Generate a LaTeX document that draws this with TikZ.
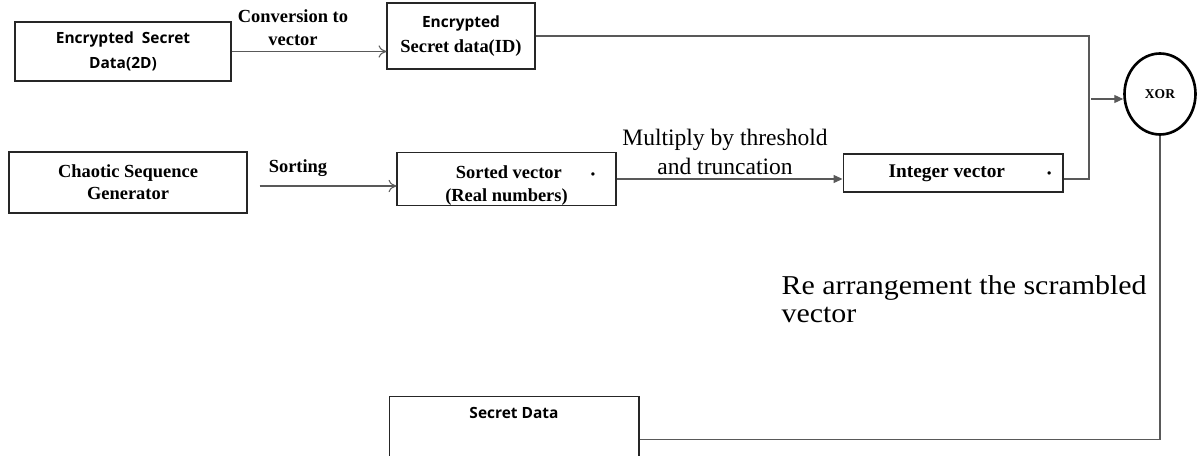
\documentclass[tikz,border=0pt]{standalone}
\usepackage{fontspec}
\setmainfont{Liberation Serif}
\newfontfamily\boxsans{Open Sans}
\newfontfamily\widefont[FakeStretch=1.1]{Liberation Serif}
\usetikzlibrary{shapes.geometric,arrows.meta}

\begin{document}
\begin{tikzpicture}[x=0.02cm,y=-0.02cm,shorten >=0pt,-,line width=0.6pt]
    \tikzstyle{block}=[rectangle,draw=black!85,fill=white,inner sep=0pt,align=center,font=\fontsize{10.5}{13}\selectfont\bfseries]
    \tikzstyle{sansbold}=[font=\fontsize{8.8}{14.2}\selectfont\boxsans\bfseries]
    \tikzstyle{wire}=[draw=black!65]
    \tikzstyle{open}=[-{To[length=4.5pt,width=7pt]}]
    \tikzstyle{solid}=[-{Triangle[length=5pt,width=4.5pt]}]
    \tikzstyle{lbl}=[inner sep=0pt,align=center,font=\fontsize{10.5}{13}\selectfont\bfseries]
    \useasboundingbox (0,0) rectangle (1198,456);

    % boxes
    \node[block,sansbold,minimum width=4.32cm,minimum height=1.18cm] (enc2d) at (123,51.5) {Encrypted\ \ Secret\\Data(2D)};
    \node[block,font=\fontsize{10.5}{14.5}\selectfont\bfseries,minimum width=2.96cm,minimum height=1.32cm] (enc1d) at (461,36)
        {{\boxsans\fontsize{8.8}{14.5}\selectfont Encrypted}\\Secret data(ID)};
    \node[block,font=\fontsize{10.5}{12.5}\selectfont\bfseries,minimum width=4.76cm,minimum height=1.22cm] (chaos) at (128,182.5) {Chaotic Sequence\\Generator};
    \node[block,minimum width=4.38cm,minimum height=1cm] (sorted) at (506.5,179)
        {\rule{0pt}{0.53cm}\hspace*{0.76cm}Sorted vector\hspace{0.58cm}{\scriptsize •}\\(Real numbers)};
    \node[block,font=\fontsize{11}{13}\selectfont\bfseries,minimum width=4.4cm,minimum height=0.76cm] (integer) at (953,173)
        {\hspace*{0.68cm}Integer vector\hspace{0.84cm}{\scriptsize •}};
    \node[ellipse,draw=black,line width=1.5pt,minimum width=1.42cm,minimum height=1.62cm,inner sep=0pt,font=\fontsize{7.7}{9}\selectfont\bfseries] (xor) at (1160,94) {XOR};
    \node[block,sansbold,anchor=north,minimum width=5cm,text height=0.3cm,text depth=1.16cm,inner ysep=0.13cm] (secret) at (514,396) {Secret Data};

    \coordinate (join) at (1089,99);

    % labels
    \node[lbl] (conv) at (293,28) {Conversion to\\vector};
    \node[lbl] (sortlbl) at (298,168) {Sorting};
    \node[lbl,font=\fontsize{13.4}{16.5}\selectfont] (mult) at (725,152) {Multiply by threshold\\and truncation};
    \node[inner sep=0pt,align=left,anchor=west,font=\widefont\fontsize{15.5}{16}\selectfont] (rearr) at (781,299) {Re arrangement the scrambled\\vector};

    % connectors
    \draw[wire,open] (enc2d.east) -- (enc1d.west |- enc2d.east);
    \draw[wire] (enc1d.east) -| (join);
    \draw[wire,open] ([xshift=0.24cm,yshift=-0.07cm]chaos.east) -- ([yshift=-0.07cm]chaos.east -| sorted.west);
    \draw[wire,solid] (sorted.east) -- (sorted.east -| integer.west);
    \draw[wire] (integer.east |- sorted.east) -| (join);
    \draw[wire,solid] ([xshift=0.04cm]join) -- (join -| xor.west);
    \draw[wire] (xor.south) |- (secret.east);
\end{tikzpicture}
\end{document}
